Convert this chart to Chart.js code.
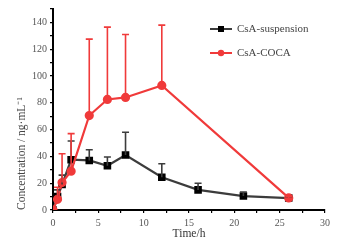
<!DOCTYPE html>
<html><head><meta charset="utf-8">
<script src="https://cdn.jsdelivr.net/npm/chart.js@4/dist/chart.umd.min.js"></script>
<style>html,body{margin:0;padding:0;background:#fff}#w{width:344px;height:241px}</style>
</head><body><div id="w"><canvas id="c"></canvas></div>
<script>
const suspTime = [0, 0.5, 1, 2, 4, 6, 8, 12, 16, 21, 26];
const suspConc = [0, 10, 19, 37.5, 37, 33, 41, 24.5, 15, 10.4, 8.9];
const suspErr  = [0, 5, 7, 14, 8, 6.5, 17, 10, 5, 3, 1];
const cocaTime = [0, 0.5, 1, 2, 4, 6, 8, 12, 26];
const cocaConc = [0, 8, 20.5, 29, 70.5, 82.5, 84, 93, 9];
const cocaErr  = [0, 9, 21.5, 28, 57, 54, 47, 45, 1];
const seriesNames = ['CsA-suspension', 'CsA-COCA'];
const xTitle = 'Time/h';
const yTitle = 'Concentration / ng\u00b7mL\u207b\u00b9';

const FONT = '"Liberation Serif", "Times New Roman", serif';
const BLACK = '#3c3c3c', RED = '#f03a3a';

const errPlugin = {
  id: 'errbars',
  afterDatasetsDraw(chart) {
    const ctx = chart.ctx, ys = chart.scales.y, xs = chart.scales.x;
    chart.data.datasets.forEach((ds, i) => {
      const errs = ds.errs;
      ctx.save();
      ctx.strokeStyle = ds.borderColor;
      ctx.lineWidth = 1.6;
      ds.data.forEach((p, j) => {
        if (!errs[j]) return;
        const x = xs.getPixelForValue(p.x);
        const y0 = ys.getPixelForValue(p.y);
        const y1 = ys.getPixelForValue(p.y + errs[j]);
        ctx.beginPath();
        ctx.moveTo(x, y0); ctx.lineTo(x, y1);
        ctx.moveTo(x - 3.5, y1); ctx.lineTo(x + 3.5, y1);
        ctx.stroke();
      });
      ctx.restore();
    });
  }
};

const legendPlugin = {
  id: 'customLegend',
  afterDraw(chart) {
    const ctx = chart.ctx;
    ctx.save();
    ctx.font = '11px ' + FONT;
    ctx.textBaseline = 'middle';
    chart.data.datasets.forEach((ds, i) => {
      const y = 29 + i * 24;
      ctx.strokeStyle = ds.borderColor;
      ctx.lineWidth = 2;
      ctx.beginPath(); ctx.moveTo(210, y); ctx.lineTo(232, y); ctx.stroke();
      ctx.fillStyle = ds.pointBackgroundColor;
      if (ds.pointStyle === 'rect') ctx.fillRect(218, y - 3, 6, 6);
      else { ctx.beginPath(); ctx.arc(221, y, 3.2, 0, Math.PI * 2); ctx.fill(); }
      ctx.fillStyle = '#444';
      ctx.fillText(ds.label, 237, y + 0.5);
    });
    ctx.restore();
  }
};

new Chart(document.getElementById('c'), {
  type: 'line',
  data: {
    datasets: [
      { label: seriesNames[0], data: suspTime.map((t, i) => ({x: t, y: suspConc[i]})), errs: suspErr,
        borderColor: BLACK, backgroundColor: '#000', pointBackgroundColor: '#000', pointBorderColor: '#000',
        pointStyle: 'rect', pointRadius: 3.8, borderWidth: 2.2, order: 2 },
      { label: seriesNames[1], data: cocaTime.map((t, i) => ({x: t, y: cocaConc[i]})), errs: cocaErr,
        borderColor: RED, backgroundColor: RED, pointBackgroundColor: RED, pointBorderColor: RED,
        pointStyle: 'circle', pointRadius: 3.5, borderWidth: 2.2, order: 1 }
    ]
  },
  options: {
    responsive: true, maintainAspectRatio: false, animation: false,
    layout: { padding: { top: 7, right: 19, left: 0, bottom: 0 } },
    plugins: { legend: { display: false }, tooltip: { enabled: false } },
    scales: {
      x: {
        type: 'linear', min: 0, max: 30,
        afterFit(s) { s.height = 31; },
        grid: { drawOnChartArea: false, tickLength: 3, color: '#000', lineWidth: 1.2 },
        border: { color: '#000', width: 2 },
        ticks: { stepSize: 2.5, padding: 4, color: '#555', font: { family: FONT, size: 10 },
                 callback: v => (v % 5 === 0 ? v : '') , maxRotation: 0, autoSkip: false },
        title: { display: true, text: xTitle, color: '#333', font: { family: FONT, size: 11.5 }, padding: { top: 0, bottom: 0 } }
      },
      y: {
        min: 0, max: 150,
        afterFit(s) { s.width = 53; },
        grid: { drawOnChartArea: false, tickLength: 3, color: '#000', lineWidth: 1.2 },
        border: { color: '#000', width: 2 },
        ticks: { stepSize: 10, padding: 3, color: '#555', font: { family: FONT, size: 10 },
                 callback: v => (v % 20 === 0 && v <= 140 ? v : ''), autoSkip: false },
        title: { display: true, text: yTitle, align: 'start', color: '#444', font: { family: FONT, size: 11.5 }, padding: { top: 15, bottom: 0 } }
      }
    }
  },
  plugins: [errPlugin, legendPlugin]
});
</script></body></html>
